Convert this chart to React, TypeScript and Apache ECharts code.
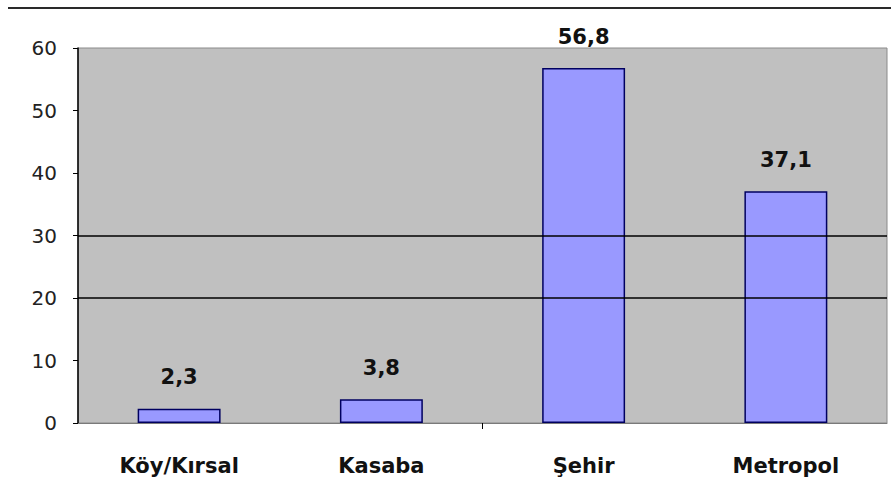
import React, { useEffect, useRef } from "react";
import * as echarts from "echarts";

const categories = ["Köy/Kırsal", "Kasaba", "Şehir", "Metropol"];
const values = [2.3, 3.8, 56.8, 37.1];
const gridLineValues = [20, 30];
const categoryDividerTicks = [2];

const FONT = "DejaVu Sans, Liberation Sans, Arial, sans-serif";

export default function App() {
  const ref = useRef<HTMLDivElement>(null);
  useEffect(() => {
    const chart = echarts.init(ref.current!, null, { renderer: "svg" });
    chart.setOption({
      animation: false,
      backgroundColor: "#ffffff",
      textStyle: { fontFamily: FONT },
      graphic: [
        {
          type: "line",
          shape: { x1: 8, y1: 8, x2: 891, y2: 8 },
          style: { stroke: "#2a2a2a", lineWidth: 2 },
        },
      ],
      grid: {
        left: 78,
        top: 48,
        right: 4,
        bottom: 81,
        show: true,
        backgroundColor: "#C0C0C0",
        borderColor: "#8a8a8a",
        borderWidth: 1,
      },
      xAxis: [
        {
          type: "category",
          data: categories,
          axisLine: { show: true, lineStyle: { color: "#7a7a7a", width: 1 } },
          axisTick: { show: false },
          axisLabel: {
            margin: 32,
            fontSize: 21,
            fontWeight: "bold",
            color: "#111",
            fontFamily: FONT,
          },
          splitLine: { show: false },
        },
        {
          type: "value",
          position: "bottom",
          min: 0,
          max: categories.length,
          axisLine: { show: false },
          axisLabel: { show: false },
          splitLine: { show: false },
          axisTick: {
            show: true,
            length: 6,
            customValues: categoryDividerTicks,
            lineStyle: { color: "#000", width: 1 },
          },
        },
      ],
      yAxis: {
        type: "value",
        min: 0,
        max: 60,
        interval: 10,
        axisLine: { show: true, lineStyle: { color: "#000", width: 1.5 } },
        axisTick: { show: true, length: 5, lineStyle: { color: "#000" } },
        axisLabel: {
          margin: 21,
          fontSize: 20,
          color: "#222",
          fontFamily: FONT,
        },
        splitLine: { show: false },
      },
      series: [
        {
          type: "bar",
          xAxisIndex: 0,
          data: values,
          barWidth: "41%",
          itemStyle: { color: "#9999FF", borderColor: "#000060", borderWidth: 1.5 },
          label: {
            show: true,
            position: "top",
            distance: 21,
            fontSize: 21,
            fontWeight: "bold",
            color: "#111",
            fontFamily: FONT,
            formatter: (p: any) => String(p.value).replace(".", ","),
          },
          markLine: {
            silent: true,
            symbol: "none",
            label: { show: false },
            lineStyle: { color: "#000", width: 1.5, type: "solid" },
            data: gridLineValues.map((v) => ({ yAxis: v })),
          },
        },
      ],
    });
    return () => chart.dispose();
  }, []);
  return (
    <div
      ref={ref}
      style={{ position: "fixed", left: 0, top: 0, width: 891, height: 504 }}
    />
  );
}
